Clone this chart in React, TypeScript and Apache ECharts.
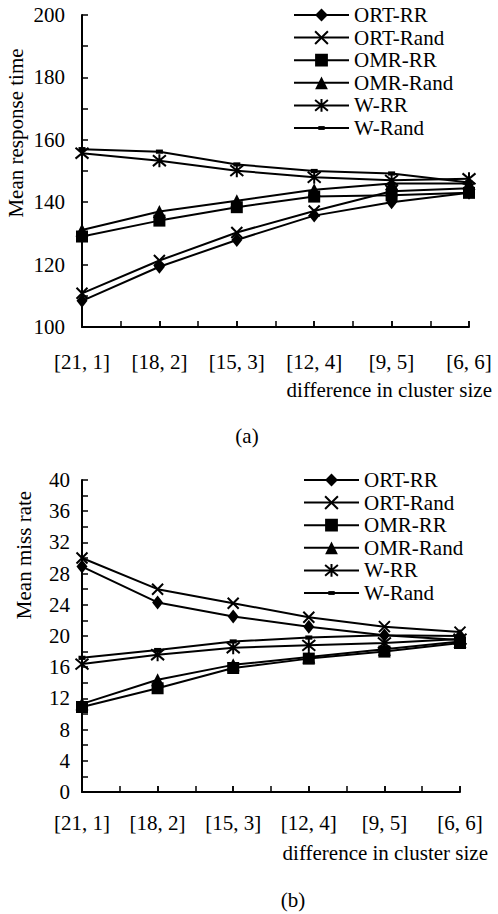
import React, { useEffect, useRef } from "react";
import * as echarts from "echarts";

const categories = ["[21, 1]", "[18, 2]", "[15, 3]", "[12, 4]", "[9, 5]", "[6, 6]"];
const seriesNames = ["ORT-RR", "ORT-Rand", "OMR-RR", "OMR-Rand", "W-RR", "W-Rand"];

// (a) Mean response time
const ortRRTime = [108.4, 119.3, 127.9, 135.7, 140.0, 143.0];
const ortRandTime = [110.8, 121.3, 130.3, 137.2, 143.5, 144.5];
const omrRRTime = [129.0, 134.1, 138.4, 141.8, 142.2, 143.0];
const omrRandTime = [131.1, 137.0, 140.5, 144.0, 146.0, 146.0];
const wRRTime = [155.7, 153.3, 150.1, 148.0, 147.0, 147.5];
const wRandTime = [157.0, 156.2, 152.1, 150.0, 149.2, 146.3];

// (b) Mean miss rate
const ortRRMiss = [28.9, 24.3, 22.5, 21.2, 20.1, 20.0];
const ortRandMiss = [30.0, 26.0, 24.2, 22.4, 21.2, 20.5];
const omrRRMiss = [10.9, 13.3, 15.9, 17.1, 18.0, 19.1];
const omrRandMiss = [11.3, 14.4, 16.3, 17.3, 18.3, 19.3];
const wRRMiss = [16.4, 17.6, 18.5, 18.8, 19.1, 19.6];
const wRandMiss = [17.2, 18.2, 19.3, 19.8, 20.1, 19.5];

const timeSeries = [ortRRTime, ortRandTime, omrRRTime, omrRandTime, wRRTime, wRandTime];
const missSeries = [ortRRMiss, ortRandMiss, omrRRMiss, omrRandMiss, wRRMiss, wRandMiss];

const FONT = "Liberation Serif, Times New Roman, serif";

const symbols = [
  { symbol: "diamond", size: [11, 14], stroke: 0 },
  { symbol: "path://M0,0L10,10M10,0L0,10", size: 11, stroke: 2 },
  { symbol: "rect", size: 12, stroke: 0 },
  { symbol: "triangle", size: 13, stroke: 0 },
  { symbol: "path://M0,0L10,10M10,0L0,10M5,-1L5,11", size: 13, stroke: 2 },
  { symbol: "path://M0,0M10,10M2.5,3.5L7.5,3.5L7.5,6.5L2.5,6.5Z", size: 14, stroke: 0 },
];

function makeSeries(data: number[][], xIdx: number, yIdx: number) {
  return data.map((vals, i) => ({
    type: "line",
    name: seriesNames[i],
    xAxisIndex: xIdx,
    yAxisIndex: yIdx,
    data: vals,
    symbol: symbols[i].symbol,
    symbolSize: symbols[i].size,
    showAllSymbol: true,
    lineStyle: { color: "#000", width: 2 },
    itemStyle: { color: "#000", borderColor: "#000", borderWidth: symbols[i].stroke },
    z: 3,
  }));
}

const axisLine = { show: true, lineStyle: { color: "#000", width: 2 } };
const textCommon = { fontFamily: FONT, fontSize: 21, color: "#000" };

function catAxis(grid: number, margin: number) {
  return {
    type: "category",
    gridIndex: grid,
    data: categories,
    boundaryGap: false,
    axisLine,
    axisTick: { show: true, inside: true, length: 6, interval: 0, lineStyle: { color: "#000", width: 1.5 } },
    axisLabel: { ...textCommon, margin, interval: 0 },
    splitLine: { show: false },
  };
}

function tickAxis(grid: number) {
  return {
    type: "value",
    gridIndex: grid,
    position: "bottom",
    min: 0,
    max: 10,
    interval: 1,
    axisLine: { show: false },
    axisTick: { show: true, inside: true, length: 6, lineStyle: { color: "#000", width: 1.5 } },
    axisLabel: { show: false },
    splitLine: { show: false },
  };
}

function valAxis(grid: number, min: number, max: number, interval: number, margin: number) {
  return {
    type: "value",
    gridIndex: grid,
    min,
    max,
    interval,
    axisLine,
    axisTick: { show: true, inside: true, length: 6, lineStyle: { color: "#000", width: 1.5 } },
    minorTick: { show: true, splitNumber: 2, length: 6, lineStyle: { color: "#000", width: 1.5 } },
    axisLabel: { ...textCommon, margin },
    splitLine: { show: false },
    minorSplitLine: { show: false },
  };
}

function legend(top: number, left: number) {
  return {
    orient: "vertical",
    top,
    left,
    padding: 0,
    itemWidth: 55,
    itemHeight: 16,
    itemGap: 1.6,
    selectedMode: false,
    data: seriesNames,
    textStyle: { ...textCommon, lineHeight: 21 },
  };
}

function txt(x: number, y: number, text: string, align: string, rotation = 0) {
  return {
    type: "text",
    x,
    y,
    rotation,
    style: { text, fill: "#000", fontFamily: FONT, fontSize: 21, align, verticalAlign: "middle" },
  };
}

export default function App() {
  const ref = useRef<HTMLDivElement>(null);
  useEffect(() => {
    if (!ref.current) return;
    const chart = echarts.init(ref.current, null, { renderer: "svg" });
    chart.setOption({
      animation: false,
      backgroundColor: "#fff",
      grid: [
        { left: 82, top: 15, width: 387, height: 312 },
        { left: 82, top: 480, width: 378, height: 312 },
      ],
      xAxis: [catAxis(0, 24), catAxis(1, 20), tickAxis(0), tickAxis(1)],
      yAxis: [valAxis(0, 100, 200, 20, 17), valAxis(1, 0, 40, 4, 12)],
      legend: [legend(4.5, 293), legend(469.5, 303)],
      graphic: [
        txt(16, 133, "Mean response time", "center", Math.PI / 2),
        txt(24, 555, "Mean miss rate", "center", Math.PI / 2),
        txt(492, 390, "difference in cluster size", "right"),
        txt(488, 853, "difference in cluster size", "right"),
        txt(247, 436, "(a)", "center"),
        txt(293, 900, "(b)", "center"),
      ],
      series: [...makeSeries(timeSeries, 0, 0), ...makeSeries(missSeries, 1, 1)],
    });
    return () => chart.dispose();
  }, []);
  return (
    <div
      ref={ref}
      style={{ position: "absolute", left: 0, top: 0, width: 498, height: 914 }}
    />
  );
}
